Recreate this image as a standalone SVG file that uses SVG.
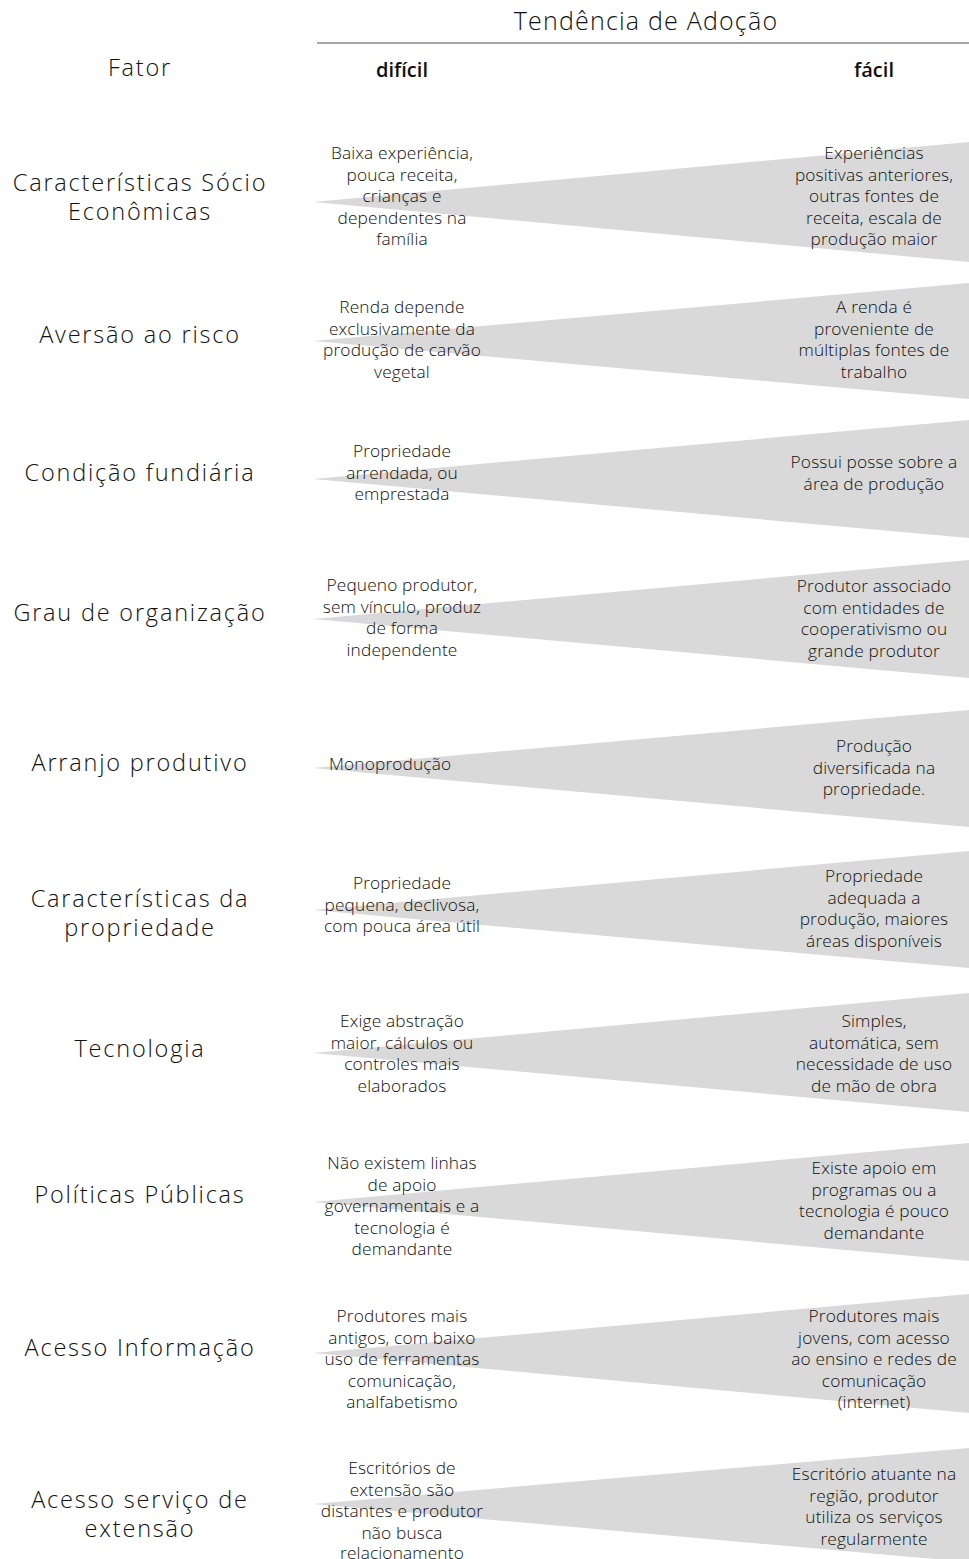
<svg xmlns="http://www.w3.org/2000/svg" width="969" height="1559" viewBox="0 0 969 1559">
<style>
  .bg{fill:#ffffff}
  .wedge{fill:#d9d9d9}
  .f{font-family:"Open Sans","Liberation Sans",sans-serif;font-size:23.5px;font-weight:300;fill:#111111;text-anchor:middle;letter-spacing:1.8px}
  .w{font-family:"Open Sans","Liberation Sans",sans-serif;font-size:17.3px;font-weight:300;fill:#111111;text-anchor:middle;letter-spacing:0.15px}
  .h{font-family:"Open Sans","Liberation Sans",sans-serif;font-size:25px;font-weight:300;fill:#111111;text-anchor:middle;letter-spacing:1.2px}
  .b{font-family:"Open Sans","Liberation Sans",sans-serif;font-size:20px;font-weight:600;fill:#111111;text-anchor:middle}
  .rule{stroke:#a6a6a6;stroke-width:2;fill:none}
</style>
<rect class="bg" x="0" y="0" width="969" height="1559"/>

<g id="header">
  <text class="h" x="646" y="30">Tendência de Adoção</text>
  <line class="rule" x1="317" y1="43" x2="969" y2="43"/>
  <text class="f" x="140" y="76">Fator</text>
  <text class="b" x="402" y="77">difícil</text>
  <text class="b" x="874" y="77">fácil</text>
</g>

<g id="connectors"></g>

<g id="row1">
  <polygon class="wedge" points="313,202 969,142 969,262"/>
  <text class="f"><tspan x="140" y="191">Características Sócio</tspan><tspan x="140" y="220">Econômicas</tspan></text>
  <text class="w"><tspan x="402" y="159">Baixa experiência,</tspan><tspan x="402" y="180.5">pouca receita,</tspan><tspan x="402" y="202">crianças e</tspan><tspan x="402" y="223.5">dependentes na</tspan><tspan x="402" y="245">família</tspan></text>
  <text class="w"><tspan x="874" y="159">Experiências</tspan><tspan x="874" y="180.5">positivas anteriores,</tspan><tspan x="874" y="202">outras fontes de</tspan><tspan x="874" y="223.5">receita, escala de</tspan><tspan x="874" y="245">produção maior</tspan></text>
</g>

<g id="row2">
  <polygon class="wedge" points="313,341 969,283 969,399"/>
  <text class="f" x="140" y="343">Aversão ao risco</text>
  <text class="w"><tspan x="402" y="313">Renda depende</tspan><tspan x="402" y="334.5">exclusivamente da</tspan><tspan x="402" y="356">produção de carvão</tspan><tspan x="402" y="377.5">vegetal</tspan></text>
  <text class="w"><tspan x="874" y="313">A renda é</tspan><tspan x="874" y="334.5">proveniente de</tspan><tspan x="874" y="356">múltiplas fontes de</tspan><tspan x="874" y="377.5">trabalho</tspan></text>
</g>

<g id="row3">
  <polygon class="wedge" points="313,479 969,420 969,538"/>
  <text class="f" x="140" y="481">Condição fundiária</text>
  <text class="w"><tspan x="402" y="457">Propriedade</tspan><tspan x="402" y="478.5">arrendada, ou</tspan><tspan x="402" y="500">emprestada</tspan></text>
  <text class="w"><tspan x="874" y="468">Possui posse sobre a</tspan><tspan x="874" y="489.5">área de produção</tspan></text>
</g>

<g id="row4">
  <polygon class="wedge" points="313,619 969,560 969,678"/>
  <text class="f" x="140" y="621">Grau de organização</text>
  <text class="w"><tspan x="402" y="591">Pequeno produtor,</tspan><tspan x="402" y="612.5">sem vínculo, produz</tspan><tspan x="402" y="634">de forma</tspan><tspan x="402" y="655.5">independente</tspan></text>
  <text class="w"><tspan x="874" y="592">Produtor associado</tspan><tspan x="874" y="613.5">com entidades de</tspan><tspan x="874" y="635">cooperativismo ou</tspan><tspan x="874" y="656.5">grande produtor</tspan></text>
</g>

<g id="row5">
  <polygon class="wedge" points="313,768 969,710 969,827"/>
  <text class="f" x="140" y="771">Arranjo produtivo</text>
  <text class="w" x="329" y="770" style="text-anchor:start">Monoprodução</text>
  <text class="w"><tspan x="874" y="752">Produção</tspan><tspan x="874" y="773.5">diversificada na</tspan><tspan x="874" y="795">propriedade.</tspan></text>
</g>

<g id="row6">
  <polygon class="wedge" points="313,910 969,851 969,968"/>
  <text class="f"><tspan x="140" y="907">Características da</tspan><tspan x="140" y="936">propriedade</tspan></text>
  <text class="w"><tspan x="402" y="889">Propriedade</tspan><tspan x="402" y="910.5">pequena, declivosa,</tspan><tspan x="402" y="932">com pouca área útil</tspan></text>
  <text class="w"><tspan x="874" y="882">Propriedade</tspan><tspan x="874" y="903.5">adequada a</tspan><tspan x="874" y="925">produção, maiores</tspan><tspan x="874" y="946.5">áreas disponíveis</tspan></text>
</g>

<g id="row7">
  <polygon class="wedge" points="313,1053 969,993 969,1112"/>
  <text class="f" x="140" y="1057">Tecnologia</text>
  <text class="w"><tspan x="402" y="1027">Exige abstração</tspan><tspan x="402" y="1048.5">maior, cálculos ou</tspan><tspan x="402" y="1070">controles mais</tspan><tspan x="402" y="1091.5">elaborados</tspan></text>
  <text class="w"><tspan x="874" y="1027">Simples,</tspan><tspan x="874" y="1048.5">automática, sem</tspan><tspan x="874" y="1070">necessidade de uso</tspan><tspan x="874" y="1091.5">de mão de obra</tspan></text>
</g>

<g id="row8">
  <polygon class="wedge" points="313,1202 969,1143 969,1261"/>
  <text class="f" x="140" y="1203">Políticas Públicas</text>
  <text class="w"><tspan x="402" y="1169">Não existem linhas</tspan><tspan x="402" y="1190.5">de apoio</tspan><tspan x="402" y="1212">governamentais e a</tspan><tspan x="402" y="1233.5">tecnologia é</tspan><tspan x="402" y="1255">demandante</tspan></text>
  <text class="w"><tspan x="874" y="1174">Existe apoio em</tspan><tspan x="874" y="1195.5">programas ou a</tspan><tspan x="874" y="1217">tecnologia é pouco</tspan><tspan x="874" y="1238.5">demandante</tspan></text>
</g>

<g id="row9">
  <polygon class="wedge" points="313,1353 969,1294 969,1413"/>
  <text class="f" x="140" y="1356">Acesso Informação</text>
  <text class="w"><tspan x="402" y="1322">Produtores mais</tspan><tspan x="402" y="1343.5">antigos, com baixo</tspan><tspan x="402" y="1365">uso de ferramentas</tspan><tspan x="402" y="1386.5">comunicação,</tspan><tspan x="402" y="1408">analfabetismo</tspan></text>
  <text class="w"><tspan x="874" y="1322">Produtores mais</tspan><tspan x="874" y="1343.5">jovens, com acesso</tspan><tspan x="874" y="1365">ao ensino e redes de</tspan><tspan x="874" y="1386.5">comunicação</tspan><tspan x="874" y="1408">(internet)</tspan></text>
</g>

<g id="row10">
  <polygon class="wedge" points="313,1504 969,1448 969,1562"/>
  <text class="f"><tspan x="140" y="1508">Acesso serviço de</tspan><tspan x="140" y="1537">extensão</tspan></text>
  <text class="w"><tspan x="402" y="1474">Escritórios de</tspan><tspan x="402" y="1495.5">extensão são</tspan><tspan x="402" y="1517">distantes e produtor</tspan><tspan x="402" y="1538.5">não busca</tspan><tspan x="402" y="1559">relacionamento</tspan></text>
  <text class="w"><tspan x="874" y="1480">Escritório atuante na</tspan><tspan x="874" y="1501.5">região, produtor</tspan><tspan x="874" y="1523">utiliza os serviços</tspan><tspan x="874" y="1544.5">regularmente</tspan></text>
</g>
</svg>
